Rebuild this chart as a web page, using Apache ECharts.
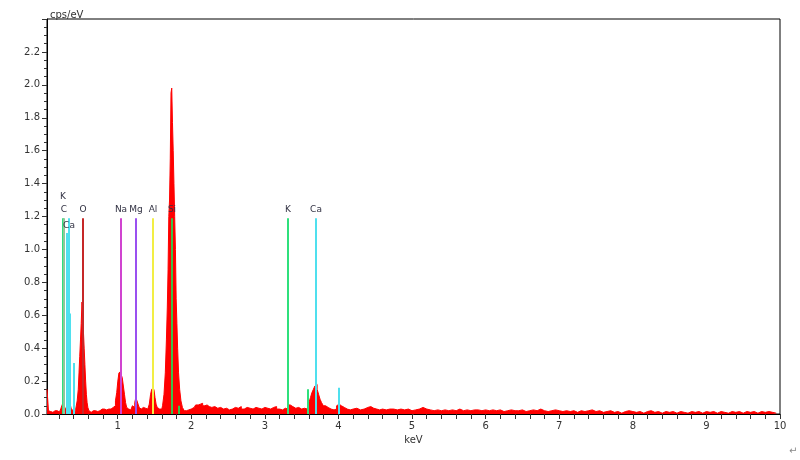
<!DOCTYPE html>
<html>
<head>
<meta charset="utf-8">
<title>EDS spectrum</title>
<script src="https://cdn.jsdelivr.net/npm/echarts@6/dist/echarts.min.js"></script>
<style>
    html, body { margin: 0; padding: 0; background: #fff; }
    #chart { width: 800px; height: 460px; }
</style>
</head>
<body>
<div id="chart"></div>
<script>
// spectrum below 2 keV, [keV, cps/eV]
const spectrumLow = [
    [0.04, 0.15], [0.055, 0.15], [0.065, 0.02], [0.08, 0.015], [0.10, 0.02], [0.12, 0.01], [0.14, 0.02],
    [0.16, 0.015], [0.18, 0.02], [0.20, 0.012], [0.22, 0.02], [0.24, 0.035], [0.26, 0.06], [0.27, 0.08],
    [0.28, 0.05], [0.30, 0.03], [0.32, 0.04], [0.34, 0.06], [0.36, 0.05], [0.38, 0.03], [0.40, 0.02],
    [0.42, 0.015], [0.44, 0.03], [0.46, 0.08], [0.47, 0.15], [0.48, 0.25], [0.49, 0.35], [0.50, 0.45],
    [0.51, 0.55], [0.52, 0.68], [0.53, 0.62], [0.54, 0.5], [0.55, 0.4], [0.56, 0.3], [0.57, 0.2],
    [0.58, 0.12], [0.59, 0.07], [0.60, 0.04], [0.62, 0.02], [0.64, 0.01], [0.66, 0.02], [0.68, 0.012],
    [0.70, 0.02], [0.72, 0.015], [0.74, 0.025], [0.76, 0.02], [0.78, 0.03], [0.80, 0.02], [0.82, 0.03],
    [0.84, 0.025], [0.86, 0.035], [0.88, 0.03], [0.90, 0.03], [0.92, 0.04], [0.94, 0.04], [0.96, 0.05],
    [0.98, 0.08], [0.995, 0.13], [1.01, 0.2], [1.025, 0.25], [1.04, 0.26], [1.055, 0.24], [1.07, 0.22],
    [1.085, 0.17], [1.10, 0.12], [1.115, 0.07], [1.13, 0.04], [1.15, 0.03], [1.17, 0.025], [1.19, 0.03],
    [1.21, 0.05], [1.225, 0.04], [1.24, 0.07], [1.255, 0.10], [1.27, 0.08], [1.285, 0.06], [1.30, 0.04],
    [1.32, 0.03], [1.34, 0.04], [1.36, 0.03], [1.38, 0.035], [1.40, 0.03], [1.42, 0.04], [1.44, 0.06],
    [1.455, 0.12], [1.47, 0.15], [1.485, 0.15], [1.50, 0.14], [1.515, 0.10], [1.53, 0.06], [1.545, 0.04],
    [1.56, 0.03], [1.58, 0.02], [1.60, 0.03], [1.62, 0.05], [1.64, 0.12], [1.655, 0.25], [1.67, 0.45],
    [1.68, 0.65], [1.69, 0.88], [1.70, 1.2], [1.71, 1.3], [1.72, 1.55], [1.73, 1.95], [1.74, 1.98],
    [1.75, 1.77], [1.76, 1.6], [1.77, 1.4], [1.78, 1.2], [1.79, 1.0], [1.80, 0.7], [1.81, 0.55],
    [1.82, 0.4], [1.835, 0.25], [1.85, 0.15], [1.87, 0.08], [1.89, 0.04], [1.92, 0.02], [1.95, 0.025],
    [1.98, 0.02]
];

// spectrum from 2 to 10 keV
const spectrumHigh = [
    [2.00, 0.03], [2.04, 0.04], [2.08, 0.055], [2.11, 0.06], [2.14, 0.065], [2.17, 0.05], [2.20, 0.055],
    [2.23, 0.045], [2.26, 0.04], [2.30, 0.045], [2.34, 0.035], [2.38, 0.04], [2.42, 0.03], [2.46, 0.035],
    [2.50, 0.025], [2.54, 0.03], [2.58, 0.04], [2.62, 0.035], [2.66, 0.045], [2.70, 0.03], [2.74, 0.04],
    [2.78, 0.035], [2.82, 0.03], [2.86, 0.04], [2.90, 0.035], [2.94, 0.03], [2.98, 0.04], [3.02, 0.035],
    [3.06, 0.03], [3.10, 0.04], [3.14, 0.045], [3.18, 0.03], [3.22, 0.025], [3.26, 0.035], [3.30, 0.03],
    [3.33, 0.055], [3.36, 0.045], [3.40, 0.035], [3.44, 0.04], [3.48, 0.03], [3.52, 0.035], [3.56, 0.03],
    [3.59, 0.04], [3.61, 0.07], [3.63, 0.10], [3.65, 0.13], [3.67, 0.15], [3.69, 0.17], [3.70, 0.18],
    [3.72, 0.15], [3.74, 0.12], [3.76, 0.09], [3.78, 0.07], [3.81, 0.05], [3.84, 0.04], [3.88, 0.03],
    [3.92, 0.025], [3.96, 0.03], [3.99, 0.05], [4.01, 0.06], [4.04, 0.05], [4.08, 0.04], [4.12, 0.03],
    [4.16, 0.025], [4.20, 0.03], [4.25, 0.035], [4.30, 0.025], [4.35, 0.03], [4.40, 0.04], [4.44, 0.045],
    [4.48, 0.035], [4.52, 0.03], [4.56, 0.025], [4.60, 0.03], [4.65, 0.025], [4.70, 0.03], [4.75, 0.03],
    [4.80, 0.025], [4.85, 0.03], [4.90, 0.025], [4.95, 0.03], [5.00, 0.02], [5.05, 0.025], [5.10, 0.03],
    [5.15, 0.04], [5.20, 0.03], [5.25, 0.025], [5.30, 0.02], [5.35, 0.025], [5.40, 0.02], [5.45, 0.025],
    [5.50, 0.02], [5.55, 0.025], [5.60, 0.02], [5.65, 0.03], [5.70, 0.02], [5.75, 0.025], [5.80, 0.02],
    [5.85, 0.025], [5.90, 0.025], [5.95, 0.02], [6.00, 0.025], [6.05, 0.02], [6.10, 0.025], [6.15, 0.02],
    [6.20, 0.025], [6.25, 0.015], [6.30, 0.02], [6.35, 0.025], [6.40, 0.02], [6.45, 0.02], [6.50, 0.025],
    [6.55, 0.015], [6.60, 0.02], [6.65, 0.025], [6.70, 0.02], [6.75, 0.03], [6.80, 0.02], [6.85, 0.015],
    [6.90, 0.02], [6.95, 0.025], [7.00, 0.02], [7.05, 0.015], [7.10, 0.02], [7.15, 0.015], [7.20, 0.02],
    [7.25, 0.01], [7.30, 0.02], [7.35, 0.015], [7.40, 0.02], [7.45, 0.025], [7.50, 0.015], [7.55, 0.02],
    [7.60, 0.01], [7.65, 0.015], [7.70, 0.02], [7.75, 0.01], [7.80, 0.015], [7.85, 0.005], [7.90, 0.015],
    [7.95, 0.02], [8.00, 0.015], [8.05, 0.01], [8.10, 0.015], [8.15, 0.005], [8.20, 0.015], [8.25, 0.02],
    [8.30, 0.01], [8.35, 0.015], [8.40, 0.005], [8.45, 0.015], [8.50, 0.01], [8.55, 0.015], [8.60, 0.005],
    [8.65, 0.015], [8.70, 0.01], [8.75, 0.005], [8.80, 0.015], [8.85, 0.01], [8.90, 0.015], [8.95, 0.005],
    [9.00, 0.015], [9.05, 0.01], [9.10, 0.015], [9.15, 0.005], [9.20, 0.015], [9.25, 0.01], [9.30, 0.005],
    [9.35, 0.015], [9.40, 0.01], [9.45, 0.015], [9.50, 0.005], [9.55, 0.015], [9.60, 0.01], [9.65, 0.015],
    [9.70, 0.005], [9.75, 0.015], [9.80, 0.01], [9.85, 0.015], [9.90, 0.01], [9.95, 0.005]
];

// element marker lines
const lineElements = ['K', 'C', 'Ca', 'Ca', 'Ca', 'Ca', 'O', 'Na', 'Mg', 'Al', 'Si', 'Si', 'K', 'K', 'Ca', 'Ca'];
const lineKeV = [0.262, 0.277, 0.341, 0.318, 0.358, 0.405, 0.525, 1.041, 1.253, 1.486, 1.739, 1.832, 3.312, 3.589, 3.690, 4.012];
const lineHeight = [1.19, 1.19, 1.19, 1.10, 0.61, 0.31, 1.19, 1.19, 1.19, 1.19, 1.19, 0.05, 1.19, 0.15, 1.19, 0.16];
const lineLabelled = [true, true, true, false, false, false, true, true, true, true, true, false, true, false, true, false];

// axis labels
const yTickLabels = ['0.0', '0.2', '0.4', '0.6', '0.8', '1.0', '1.2', '1.4', '1.6', '1.8', '2.0', '2.2'];
const xTickLabels = [1, 2, 3, 4, 5, 6, 7, 8, 9, 10];

// styles
const elementColor = {
    K: '#2fe07c', C: '#8fc79a', Ca: '#4fe0ee', O: '#c62828',
    Na: '#d044d0', Mg: '#9a50f0', Al: '#f2ee44', Si: '#3cc04a'
};
// label shifts (px) for the crowded group near 0.3 keV
const labelShift = { 0: -13, 2: 16 };
const FONT = '"DejaVu Sans", Verdana, sans-serif';

const xMinorTicks = Array.from({ length: 50 }, (_, i) => +(0.2 * (i + 1)).toFixed(1));

const chart = echarts.init(document.getElementById('chart'), null, { renderer: 'canvas' });

chart.setOption({
    animation: false,
    backgroundColor: '#fff',
    textStyle: { fontFamily: FONT },
    grid: {
        left: 47, right: 20, top: 19, bottom: 46,
        show: true, borderColor: '#000', borderWidth: 1
    },
    graphic: [
        {
            type: 'text', left: 50, top: 10,
            style: { text: 'cps/eV', font: '10px ' + FONT, fill: '#333' }
        },
        {
            type: 'text', left: 789, top: 446,
            style: { text: '\u21b5', font: '10px ' + FONT, fill: '#888' }
        }
    ],
    xAxis: {
        type: 'value',
        min: 0.04,
        max: 10,
        name: 'keV',
        nameLocation: 'middle',
        nameGap: 19,
        nameTextStyle: { color: '#333', fontSize: 10 },
        axisLine: { onZero: false, lineStyle: { color: '#000', width: 1 } },
        axisTick: { show: true, customValues: xMinorTicks, length: 5, lineStyle: { color: '#333' } },
        axisLabel: {
            customValues: xTickLabels,
            formatter: v => String(v),
            color: '#333', fontSize: 10, margin: 7
        },
        splitLine: { show: false }
    },
    yAxis: {
        type: 'value',
        min: 0,
        max: 2.4,
        interval: 0.2,
        axisLine: { show: true, onZero: false, lineStyle: { color: '#000', width: 1 } },
        axisTick: { show: true, length: 5, lineStyle: { color: '#333' } },
        minorTick: { show: true, splitNumber: 4, length: 3, lineStyle: { color: '#333' } },
        splitLine: { show: false },
        axisLabel: {
            formatter: v => yTickLabels[Math.round(v / 0.2)] || '',
            color: '#333', fontSize: 10, margin: 7
        }
    },
    series: [
        {
            name: 'spectrum',
            type: 'line',
            step: 'middle',
            symbol: 'none',
            data: spectrumLow.concat(spectrumHigh),
            lineStyle: { color: '#ff0000', width: 1 },
            areaStyle: { color: '#ff0000', opacity: 1 },
            z: 2
        },
        {
            name: 'elements',
            type: 'custom',
            data: lineKeV.map((e, i) => [e, lineHeight[i], i]),
            renderItem(params, api) {
                const i = api.value(2);
                const name = lineElements[i];
                const p0 = api.coord([api.value(0), 0]);
                const p1 = api.coord([api.value(0), api.value(1)]);
                const x = Math.round(p0[0]);
                const children = [{
                    type: 'line',
                    shape: { x1: x, y1: p0[1], x2: x, y2: p1[1] },
                    style: { stroke: elementColor[name], lineWidth: 2 }
                }];
                if (lineLabelled[i]) {
                    children.push({
                        type: 'text',
                        x: x,
                        y: p1[1] - 8 + (labelShift[i] || 0),
                        style: {
                            text: name, font: '9px ' + FONT, fill: '#334',
                            textAlign: 'center', textVerticalAlign: 'middle'
                        }
                    });
                }
                return { type: 'group', children };
            },
            z: 3
        }
    ]
});
</script>
</body>
</html>
